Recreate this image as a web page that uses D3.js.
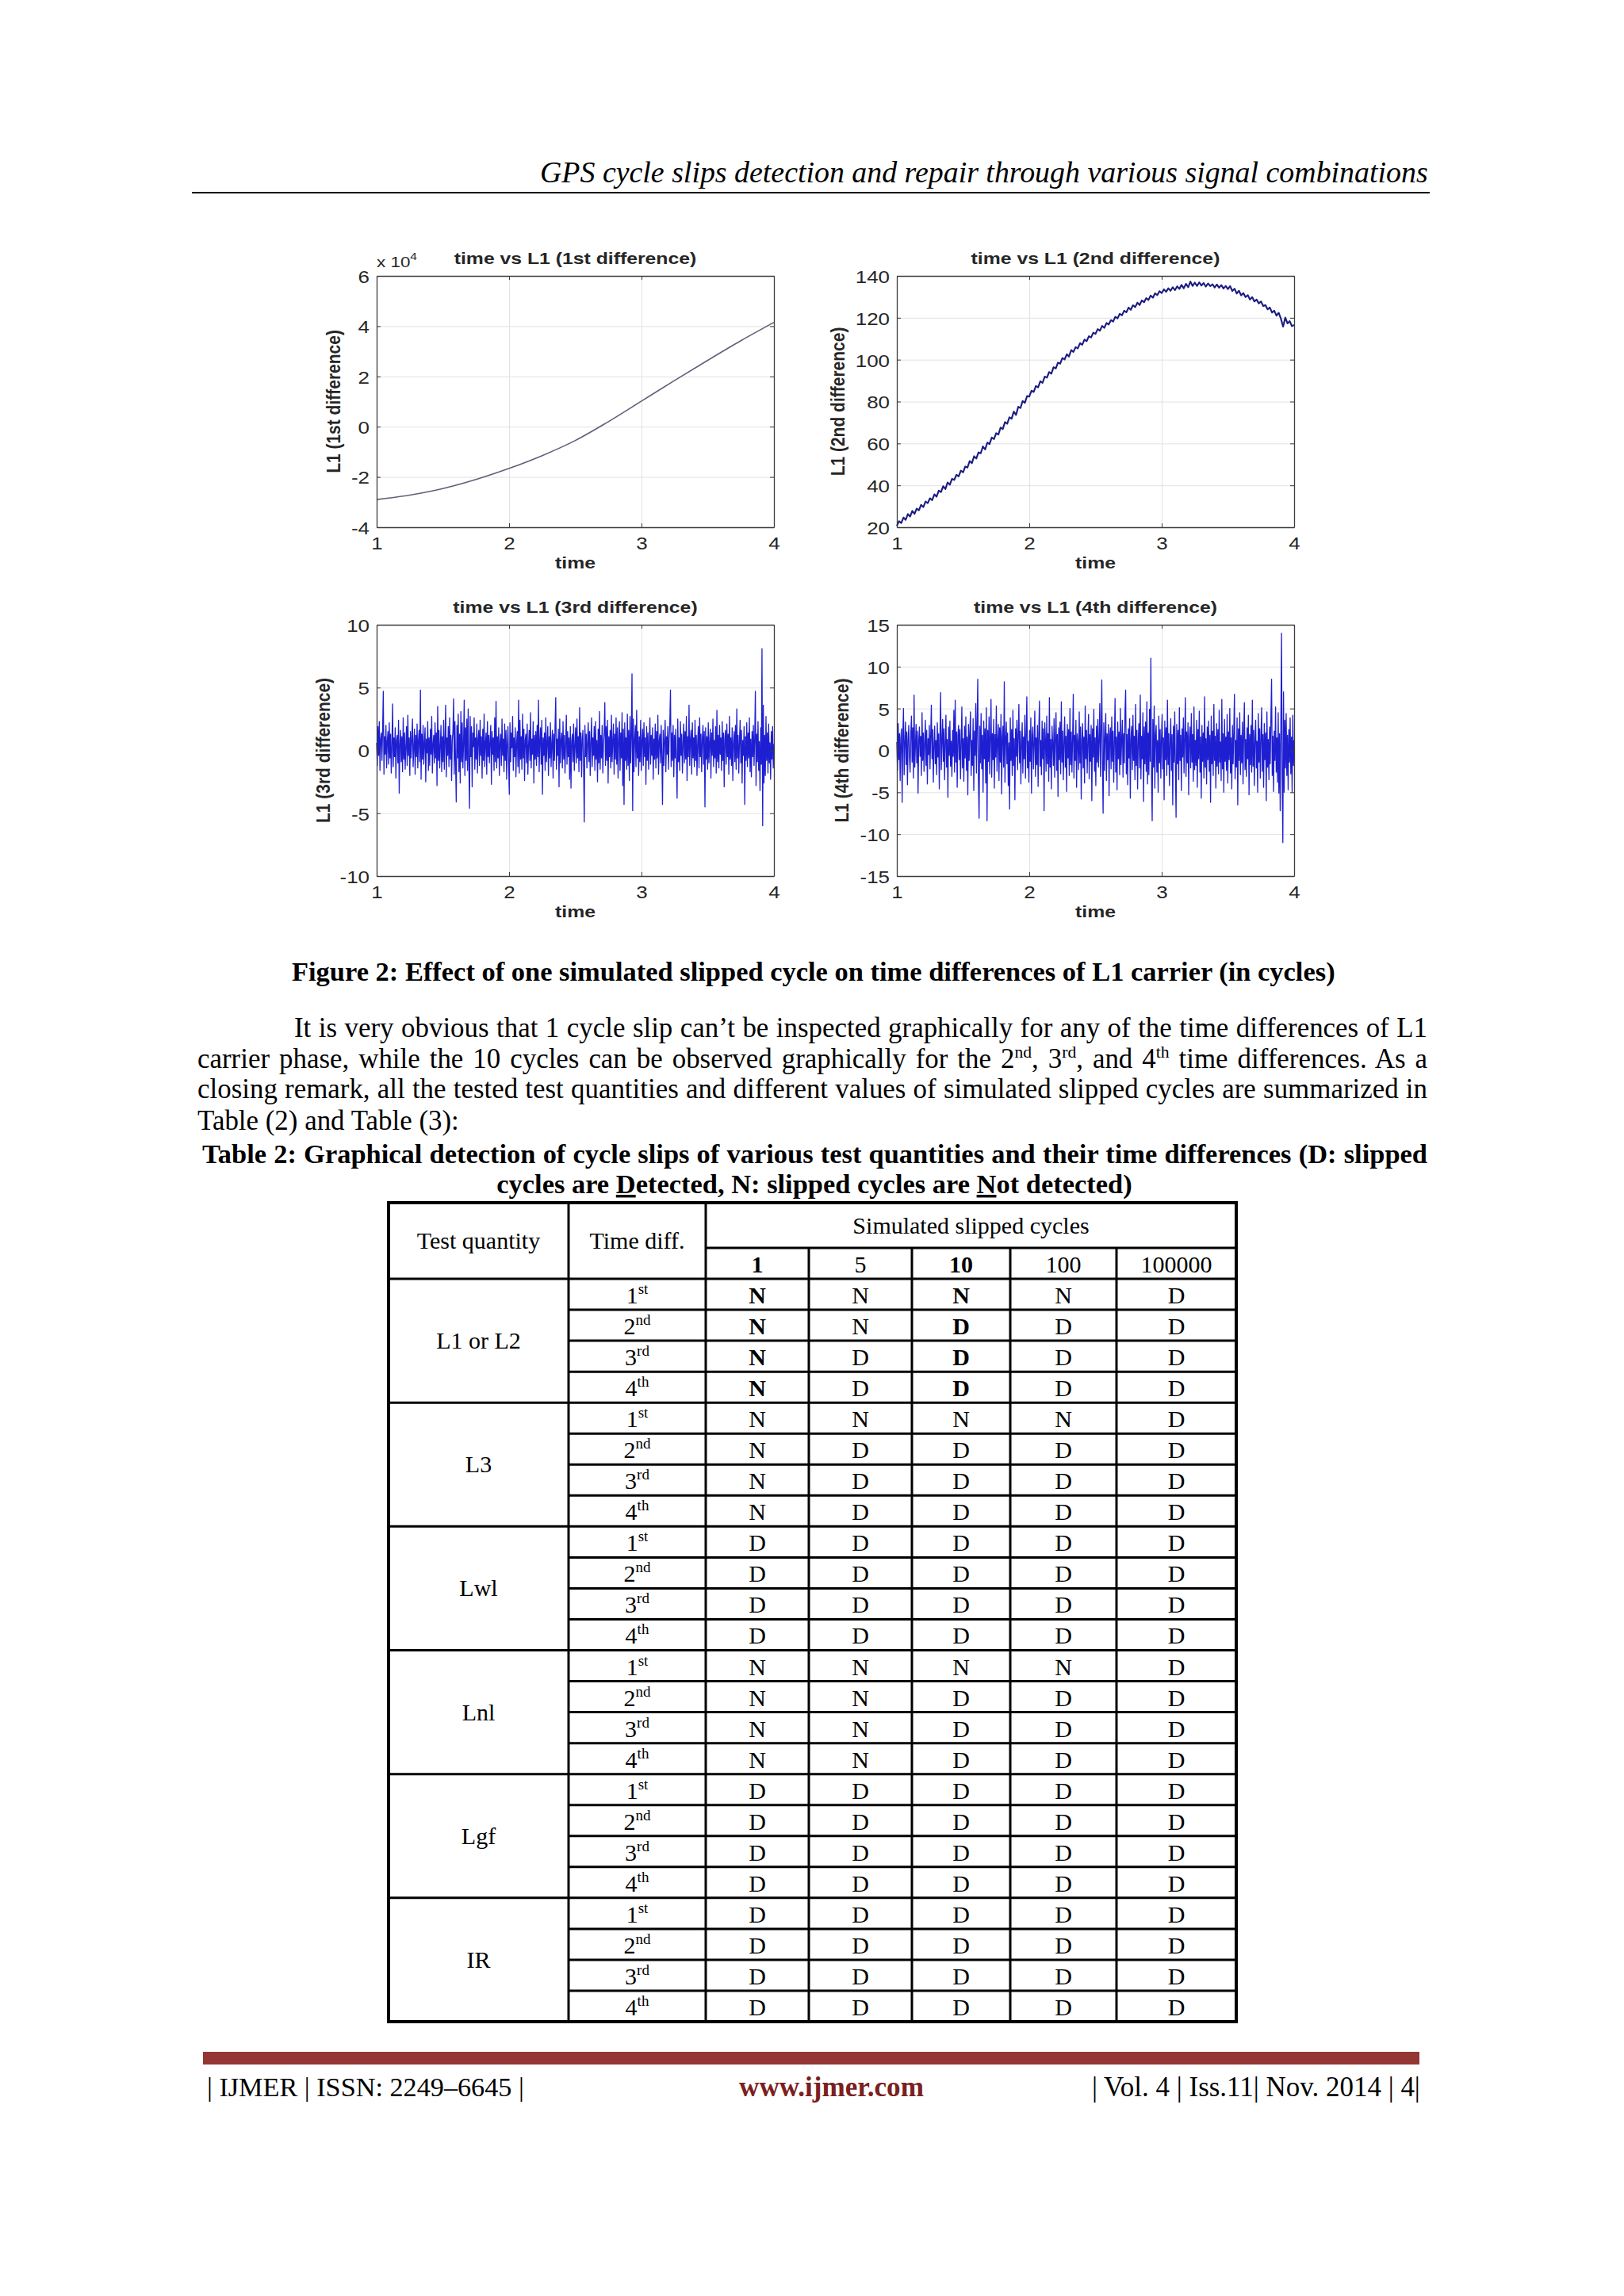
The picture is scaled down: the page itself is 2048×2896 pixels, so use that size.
<!DOCTYPE html>
<html>
<head>
<meta charset="utf-8">
<script src="https://cdn.jsdelivr.net/npm/d3@7"></script>
<style>
  html, body { margin: 0; padding: 0; background: #fff; }
  svg text { font-family: "Liberation Serif", "Times New Roman", serif; fill: #000; }
  .fig text { font-family: "Liberation Sans", Arial, Helvetica, sans-serif; fill: #262626; }
</style>
</head>
<body>
<svg id="page" width="2048" height="2896"></svg>
<script>
'use strict';

// ---- data ----

var timeTicks = [1, 2, 3, 4];

// 1st difference (in units of 10^4 cycles)
var diff1Time   = [1, 1.25, 1.5, 1.75, 2, 2.25, 2.5, 2.75, 3, 3.25, 3.5, 3.75, 4];
var diff1Values = [-2.9, -2.72, -2.46, -2.1, -1.66, -1.15, -0.55, 0.2, 1.02, 1.84, 2.64, 3.42, 4.15];
var diff1Ticks  = [-4, -2, 0, 2, 4, 6];

// 2nd difference, sampled evenly between time 1 and 4
var diff2Values = [
  20.6, 22.9, 22.0, 24.6, 23.5, 26.3, 25.1, 27.8, 26.4, 28.9, 28.1, 30.7, 29.6, 32.3, 31.5,
  33.8, 32.9, 35.7, 34.6, 37.5, 36.8, 39.6, 38.2, 41.4, 40.3, 43.1, 42.6, 45.0, 44.3, 47.0,
  46.2, 49.0, 48.5, 51.6, 50.6, 53.9, 52.8, 55.7, 55.3, 58.6, 57.1, 60.4, 59.7, 62.8, 62.1,
  64.9, 64.2, 67.6, 66.9, 70.2, 69.4, 72.5, 71.8, 75.2, 73.6, 77.5, 76.9, 80.3, 79.4, 82.6,
  82.4, 85.2, 84.6, 87.4, 86.8, 89.7, 88.9, 91.9, 91.4, 94.1, 93.3, 96.4, 95.8, 98.6, 98.1,
  100.8, 100.1, 102.6, 101.5, 104.6, 103.7, 106.0, 105.4, 107.9, 107.1, 109.6, 108.8, 111.2, 110.6, 112.9,
  112.3, 114.6, 113.8, 116.1, 115.2, 117.5, 116.8, 118.9, 118.2, 120.5, 119.7, 121.9, 121.2, 123.4, 122.6,
  124.9, 123.8, 126.0, 125.1, 127.2, 126.1, 128.3, 127.4, 129.4, 128.5, 130.6, 129.6, 131.7, 130.8, 132.7,
  131.8, 133.6, 132.4, 134.1, 132.9, 134.6, 133.2, 135.0, 133.8, 135.7, 134.1, 136.2, 134.6, 137.3, 135.2,
  136.8, 135.2, 136.9, 135.4, 136.6, 134.9, 136.4, 135.1, 136.0, 134.5, 135.9, 134.4, 135.6, 134.0, 135.2,
  133.7, 135.1, 132.8, 133.9, 131.6, 132.9, 130.7, 131.8, 129.9, 130.8, 128.7, 129.9, 127.8, 128.7, 126.9,
  127.8, 125.6, 126.1, 124.0, 124.9, 122.5, 123.4, 121.0, 122.4, 119.6, 115.8, 120.1, 117.3, 118.4, 116.0,
  116.6
];
var diff2Ticks = [20, 40, 60, 80, 100, 120, 140];

// 3rd difference, sampled evenly between time 1 and 4
var diff3Values = [
  0.6, -1.2, 1.9, -0.4, 2.3, -1.6, 0.9, 1.4, -0.8, 1.7, 4.7, -1.9, 1.1, -0.3, 2.0, -1.4, 0.7, 1.5, -1.1, 2.2,
  -0.6, 1.3, -1.8, 0.4, 3.7, -1.3, 1.0, -0.5, 1.8, -2.2, 0.8, 1.2, -1.0, 2.4, -3.4, 0.5, 1.6, -0.9, 1.1, -1.7,
  2.6, -0.7, 1.4, -1.5, 0.3, 1.9, -1.2, 2.8, -0.4, 1.0, -2.0, 1.5, -0.6, 0.9, 2.5, -1.3, 0.2, 1.7, -1.9, 1.2,
  -0.5, 2.1, -1.4, 0.8, 1.6, -0.9, 4.8, -2.3, 1.3, -0.7, 2.0, -1.1, 0.6, 1.8, -2.5, 0.9, -0.2, 2.3, -1.6, 1.0,
  -1.2, 1.7, -0.3, 2.7, -1.8, 0.5, 1.2, -1.0, 2.2, -0.6, 1.4, -2.8, 3.5, -0.8, 1.6, -1.4, 0.4, 2.0, -1.7, 1.1,
  -0.9, 2.4, -1.5, 0.7, 3.6, -2.1, 1.0, -0.4, 1.9, -1.3, 2.6, -0.7, 1.2, -2.4, 0.8, 1.5, 4.1, -1.9, 2.3, -1.0,
  -4.1, 2.0, -0.6, 2.9, -1.7, 1.3, -2.6, 3.1, -0.9, 2.2, -1.4, 0.5, 4.0, -2.0, 1.8, -0.8, 2.5, -1.6, 3.3, -1.1,
  -4.6, 2.7, -0.5, 1.9, -2.9, 1.4, 0.3, 2.6, -1.5, 1.0, -0.7, 2.1, -1.8, 0.9, 1.6, -1.2, 2.4, -0.4, 1.1, -2.2,
  1.7, -0.8, 2.9, -1.3, 0.6, 1.4, -1.9, 2.3, -0.5, 1.2, -1.0, 0.8, 2.0, -2.7, 1.5, -0.3, 1.0, -1.6, 2.6, -0.9,
  3.9, -1.4, 1.1, -0.6, 1.8, -2.0, 0.7, 1.3, -1.2, 2.5, -0.4, 0.9, -1.7, 2.1, -0.8, 1.6, -2.3, 0.5, 1.9, -1.1,
  -3.5, 2.2, -0.9, 1.4, 0.2, 2.7, -1.6, 1.0, -0.5, 1.8, -2.1, 0.6, 1.5, -1.3, 4.0, -1.8, 2.4, -0.7, 1.1, -1.5,
  2.9, -0.6, 1.7, -2.4, 0.8, 1.3, -1.0, 2.1, -1.9, 0.4, 1.6, -0.8, 3.0, -1.4, 0.9, -0.3, 2.3, -2.6, 1.2, -0.7,
  1.5, -1.2, 2.0, -0.5, 4.0, -1.7, 0.7, 1.8, -1.1, 2.4, -3.5, 1.0, -0.4, 1.4, -1.6, 2.6, -0.9, 0.6, 1.9, -2.0,
  1.1, -0.6, 2.2, -1.3, 0.5, 1.6, -2.2, 1.3, -0.8, 2.0, 4.2, -1.5, 0.9, -0.4, 1.7, -2.9, 2.5, -1.0, 0.8, 1.4,
  -1.4, 2.3, -0.7, 1.2, -1.8, 0.6, 2.8, -1.1, 1.5, -0.5, 1.0, -2.3, 1.9, -3.0, 0.7, 1.3, -0.9, 2.1, -1.6, 0.4,
  1.8, -1.0, 2.5, -0.6, 1.1, -1.7, 3.4, -0.8, 1.4, -2.1, 0.9, 1.6, -1.2, -5.7, 2.0, -0.5, 1.3, -1.4, 0.6, 2.2,
  -0.9, 1.5, -2.0, 0.7, 2.6, -1.3, 1.0, -0.4, 1.9, -1.6, 2.3, -0.7, 0.8, -2.5, 1.7, -1.0, 3.1, -1.5, 1.2, -0.6,
  2.0, -1.8, 0.5, 1.4, 3.8, -1.2, 1.9, -0.8, 2.4, -2.6, 1.1, -0.5, 1.6, -1.4, 2.8, -0.9, 0.7, 2.1, -1.9, 1.3,
  -0.7, 2.6, -1.1, 1.8, -2.2, 0.9, 2.3, -1.6, 1.4, -0.6, 3.0, -2.8, 1.7, -4.3, 2.2, -0.8, 1.0, -1.5, 2.9, -1.2,
  1.6, -2.4, 2.7, -1.0, 1.3, 6.1, -4.8, 2.5, -1.7, 0.9, 2.0, -1.3, 3.2, -0.6, 1.5, -2.0, 1.1, -0.9, 2.4, -1.6,
  0.8, 1.7, -1.2, 2.2, -0.5, 1.0, -2.7, 1.9, -0.8, 1.4, -1.5, 0.6, 2.6, -1.1, 1.2, -0.4, 1.8, -2.3, 0.9, -0.7,
  2.1, -1.4, 1.5, -0.6, 2.8, -1.9, 0.7, 1.3, -1.0, 2.0, -0.5, -4.3, 1.6, -1.2, 0.8, 2.4, -1.7, 1.1, -0.3, 1.9,
  -1.5, 0.9, 2.2, 4.8, -1.3, 1.4, -0.8, 2.0, -2.1, 1.2, -0.6, 1.7, -1.1, -3.8, 2.5, -0.9, 1.0, -1.6, 2.3, -0.4,
  1.3, -1.8, 0.6, 2.1, -1.0, 1.5, -0.7, 2.7, -2.4, 1.1, -0.5, 3.6, -1.2, 0.8, 1.6, -1.9, 2.2, -0.6, 1.0, -1.3,
  2.4, -0.8, 1.2, -2.0, 0.7, 1.9, -1.4, 2.6, -0.5, 1.3, -1.7, 0.9, 2.0, -1.1, 1.5, -4.5, 1.8, -0.7, 1.1, -1.5,
  2.2, -1.0, 0.6, 1.7, -2.2, 1.4, -0.4, 2.5, -1.3, 0.8, -0.6, 1.9, -1.8, 3.2, -0.9, 1.2, -1.4, 2.0, -0.3, 1.0,
  -1.6, 2.3, -0.8, 1.4, -2.9, 0.9, 1.6, -1.1, 2.1, -0.5, 1.3, -1.9, 2.7, -0.7, 1.0, -1.2, 1.8, -2.4, 0.6, 1.5,
  -0.9, 2.0, -1.5, 3.3, -0.6, 1.2, -1.8, 0.7, 2.4, -1.0, 1.6, -2.6, 0.8, -0.4, 1.9, -4.3, 1.1, -0.8, 2.2, -1.3,
  1.4, -0.6, 2.6, -1.7, 0.9, -2.1, 1.5, -0.5, 2.0, -1.2, 1.0, 4.7, -2.8, 1.3, -0.9, 2.3, -1.6, 0.7, -3.2, 1.8,
  -1.1, 8.1, -6.0, 3.6, -2.6, 1.2, -2.0, 2.7, -0.8, 1.4, -1.8, 2.1, -1.0, 0.6, -2.3, 1.5, -0.7, 1.9, -1.4, 0.5
];
var diff3Ticks = [-10, -5, 0, 5, 10];

// 4th difference, sampled evenly between time 1 and 4
var diff4Values = [
  1.0, -2.4, 3.2, -1.1, 2.0, -3.6, 1.5, 2.6, -6.2, 1.8, 5.0, -2.9, 0.8, 3.4, -1.7, 2.2, -4.1, 1.3, 3.0, -0.9,
  -2.6, 1.9, 4.1, -1.4, 2.7, -3.3, 6.6, -2.0, 0.6, 3.1, -1.5, 2.3, -5.1, 1.1, 2.8, -0.7, 1.7, -3.0, 4.5, -1.2,
  2.1, -2.5, 0.9, 3.6, -1.8, 2.4, -4.0, 1.4, -0.5, 3.0, -2.2, 1.6, 5.4, -1.0, 2.5, -3.8, 0.7, 2.9, -1.6, 1.2,
  -2.9, 3.3, -0.8, 2.0, -4.6, 1.5, 6.9, -2.3, 1.0, 3.7, -1.3, 2.6, -3.5, 0.9, 4.2, -2.0, 1.3, -5.6, 2.8, -0.6,
  3.5, -1.9, 1.1, -3.1, 2.4, -0.7, 4.8, -2.6, 6.0, -1.4, 2.2, -4.4, 1.7, 3.0, -1.1, 2.5, -3.4, 0.8, 5.2, -2.1,
  1.4, -3.7, 2.9, -0.9, 4.0, -2.4, 1.6, -5.3, 3.1, -1.2, 2.0, 4.6, -3.0, 1.2, -1.8, 3.8, -4.8, 2.3, -0.6, 5.6,
  -2.7, 3.2, 8.5, -3.4, -8.1, 2.9, -1.5, 4.4, -2.2, 1.8, -5.0, 3.5, -1.0, 2.6, -3.9, 5.1, -8.4, 2.4, -1.3, 4.0,
  -2.8, 1.5, 6.1, -3.2, 2.0, -1.1, 3.7, -4.5, 1.9, -0.8, 5.3, -2.5, 1.2, 3.1, -3.6, 2.7, -1.4, 4.3, -5.2, 1.6,
  2.9, -2.0, 8.2, -3.8, 1.3, 3.4, -1.6, 2.1, -4.2, 0.9, -7.0, 3.9, -1.2, 2.5, -3.0, 4.8, -1.8, 1.4, -5.9, 2.6,
  -0.7, 3.6, -2.3, 1.8, 5.5, -1.5, 2.3, -4.0, 1.0, 3.3, -2.7, 1.6, -1.0, 4.2, -3.3, 2.0, 6.4, -2.1, 1.1, -3.8,
  2.4, -1.3, 3.9, -5.1, 1.7, 2.8, -2.2, 0.8, 4.7, -3.1, 1.5, -1.7, 3.0, -4.3, 2.2, 5.9, -1.9, 1.2, -2.9, 3.5,
  -1.0, 2.6, -7.2, 3.3, 1.4, -2.5, 4.1, -1.6, 2.0, -3.7, 6.3, -2.0, 1.3, -4.6, 2.9, 0.7, -1.8, 3.8, -3.2, 1.6,
  4.5, -2.4, 1.9, -5.5, 2.7, -1.1, 3.4, -2.8, 5.8, -1.4, 2.3, -3.5, 1.0, 4.0, -2.0, 1.7, -4.9, 3.1, -0.9, 2.5,
  -3.0, 5.0, -1.7, 2.2, -2.6, 1.4, 6.7, -3.3, 1.8, -1.2, 3.6, -4.4, 2.0, 0.9, -2.3, 4.6, -1.5, 2.8, -5.8, 1.3,
  3.2, -2.1, 1.6, -3.9, 5.3, -1.0, 2.4, -2.7, 1.1, 4.3, -3.4, 1.9, -1.3, 3.0, -6.0, 2.6, -0.8, 4.9, -2.5, 1.5,
  -4.2, 2.9, -1.4, 3.7, -2.0, 1.2, 5.6, -3.1, 2.1, 8.4, -1.6, -7.5, 3.3, -2.4, 1.7, 4.4, -3.6, 2.0, -1.1, 3.1,
  -5.4, 1.8, 2.7, -2.2, 4.0, -1.3, 2.3, -3.8, 1.0, 6.2, -2.6, 1.6, -4.7, 3.4, -1.0, 2.2, -2.9, 5.0, -1.7, 1.3,
  3.6, -3.2, 2.0, -1.5, 4.7, 7.2, -2.8, 1.9, -4.1, 2.6, -0.9, 3.8, -5.7, 1.4, 2.9, -2.3, 4.2, -1.2, 1.7, -3.5,
  5.5, -1.8, 2.4, -4.6, 1.3, 3.2, -2.1, 6.6, -3.4, 1.7, -1.0, 4.5, -6.1, 2.8, -1.6, 3.4, -2.5, 5.8, -4.0, 2.1,
  -2.9, 4.9, -1.3, 11.0, -3.2, -8.4, 3.7, -2.0, 5.3, -4.5, 1.8, 3.0, -2.6, 1.2, -5.0, 4.1, -1.5, 2.5, -3.3, 1.6,
  4.3, -2.2, 1.5, -5.9, 3.5, -1.1, 2.7, -3.0, 6.0, -1.7, 2.0, -4.2, 1.1, 3.8, -2.4, 1.9, -6.5, 2.9, -1.4, 4.6,
  -2.0, -8.0, 3.1, -1.6, 2.4, -3.5, 5.1, -1.2, 1.8, -4.8, 2.6, -0.8, 3.9, -2.7, 1.4, 6.3, -3.1, 2.2, -1.5, 3.3,
  -5.3, 1.5, 2.8, -2.1, 4.4, -1.4, 1.9, -3.7, 5.2, -2.3, 1.2, -1.8, 3.6, -4.4, 2.5, -1.0, 4.7, -2.6, 1.6, -5.7,
  3.0, -1.3, 2.1, -3.3, 6.4, -2.0, 1.4, -4.0, 2.8, -1.1, 3.5, -2.5, 1.8, -6.2, 4.1, -1.6, 2.3, -3.0, 5.5, -1.2,
  1.7, -4.5, 3.2, -1.9, 2.5, -2.8, 4.8, -1.4, 1.0, -3.6, 6.1, -2.2, 2.0, -5.0, 3.7, -1.3, 1.6, -2.4, 4.3, -3.9,
  2.2, -1.1, 5.0, -2.7, 1.5, -4.6, 3.0, -1.6, 2.3, 6.7, -3.4, 1.2, -2.0, 3.9, -6.5, 2.6, -1.2, 4.5, -2.9, 1.8,
  -1.5, 3.4, -4.0, 2.0, 5.7, -2.3, 1.3, -3.1, 2.7, -1.0, 4.2, -5.3, 1.9, -1.7, 3.0, -2.6, 6.0, -1.9, 2.4, -4.2,
  1.4, 3.6, -2.1, 1.1, -5.0, 4.4, -1.4, 2.6, -3.3, 1.6, 5.1, -2.5, 1.9, -4.4, 3.2, -1.1, 2.1, -6.0, 4.6, -2.0,
  1.3, -3.5, 2.8, -1.6, 4.0, 8.5, -3.0, 1.7, -4.9, 2.3, -1.2, 5.2, -2.6, 1.5, -3.8, 4.5, -5.1, 2.0, -7.2, 3.4,
  14.0, -3.5, -11.0, 7.0, -5.0, 3.6, -2.1, 4.4, -3.0, 1.8, -4.7, 2.5, -1.4, 3.9, -2.8, 1.6, -5.0, 4.2, -1.8, 1.2
];
var diff4Ticks = [-15, -10, -5, 0, 5, 10, 15];

// Table 2
var quantities = ['L1 or L2', 'L3', 'Lwl', 'Lnl', 'Lgf', 'IR'];
var ordinals   = [['1', 'st'], ['2', 'nd'], ['3', 'rd'], ['4', 'th']];
var slipSizes  = ['1', '5', '10', '100', '100000'];
var detection  = [
  'NNNND', 'NNDDD', 'NDDDD', 'NDDDD',
  'NNNND', 'NDDDD', 'NDDDD', 'NDDDD',
  'DDDDD', 'DDDDD', 'DDDDD', 'DDDDD',
  'NNNND', 'NNDDD', 'NNDDD', 'NNDDD',
  'DDDDD', 'DDDDD', 'DDDDD', 'DDDDD',
  'DDDDD', 'DDDDD', 'DDDDD', 'DDDDD'
];

// ---- drawing ----

var page = d3.select('#page');
var SX = 1.18;          // the figure bitmap is stretched sideways in the paper
var plotW = 501, plotH = 317;

function evenTime(values) {
  return values.map(function(v, i) {
    return {t: 1 + 3 * i / (values.length - 1), v: v};
  });
}

function stretched(g, x, y, str, size, weight, anchor) {
  return g.append('text')
    .attr('transform', 'translate(' + x + ',' + y + ') scale(' + SX + ',1)')
    .attr('font-size', size)
    .attr('font-weight', weight || 'normal')
    .attr('text-anchor', anchor || 'middle')
    .text(str);
}

function subplot(cfg) {
  var g = page.append('g').classed('fig', true);
  var x = d3.scaleLinear().domain([1, 4]).range([cfg.left, cfg.left + plotW]);
  var y = d3.scaleLinear().domain(cfg.domain).range([cfg.top + plotH, cfg.top]);
  var bottom = cfg.top + plotH;

  // grid
  g.append('g').attr('transform', 'translate(0,' + bottom + ')')
    .call(d3.axisBottom(x).tickValues(timeTicks).tickSize(-plotH).tickFormat(''))
    .call(function(s) { s.select('.domain').remove(); s.selectAll('line').attr('stroke', '#e2e2e2'); });
  g.append('g').attr('transform', 'translate(' + cfg.left + ',0)')
    .call(d3.axisLeft(y).tickValues(cfg.ticks).tickSize(-plotW).tickFormat(''))
    .call(function(s) { s.select('.domain').remove(); s.selectAll('line').attr('stroke', '#e2e2e2'); });

  // data
  var line = d3.line().x(function(d) { return x(d.t); }).y(function(d) { return y(d.v); });
  if (cfg.curve) line.curve(cfg.curve);
  g.append('path').datum(cfg.data)
    .attr('fill', 'none')
    .attr('stroke', cfg.color)
    .attr('stroke-width', cfg.width)
    .attr('stroke-linejoin', 'round')
    .attr('d', line);

  // box and inward ticks on all four sides
  var axisColor = '#3c3c3c';
  [[d3.axisBottom(x).tickValues(timeTicks), 'translate(0,' + bottom + ')'],
   [d3.axisTop(x).tickValues(timeTicks), 'translate(0,' + cfg.top + ')'],
   [d3.axisLeft(y).tickValues(cfg.ticks), 'translate(' + cfg.left + ',0)'],
   [d3.axisRight(y).tickValues(cfg.ticks), 'translate(' + (cfg.left + plotW) + ',0)']
  ].forEach(function(a) {
    g.append('g').attr('transform', a[1])
      .call(a[0].tickSize(-5).tickSizeOuter(0).tickFormat(''))
      .call(function(s) {
        s.select('.domain').attr('stroke', axisColor).attr('stroke-width', 1.3);
        s.selectAll('.tick line').attr('stroke', axisColor);
      });
  });

  // tick labels
  var fmt = function(d) { return String(d); };
  g.append('g').attr('transform', 'translate(0,' + bottom + ')')
    .call(d3.axisBottom(x).tickValues(timeTicks).tickSize(0).tickPadding(12).tickFormat(fmt))
    .call(function(s) {
      s.select('.domain').remove();
      s.attr('font-size', 22).attr('font-family', null);
      s.selectAll('text').attr('transform', 'scale(' + SX + ',1)');
    });
  g.append('g').attr('transform', 'translate(' + cfg.left + ',0)')
    .call(d3.axisLeft(y).tickValues(cfg.ticks).tickSize(0).tickFormat(fmt))
    .call(function(s) {
      s.select('.domain').remove();
      s.attr('font-size', 22).attr('font-family', null);
      s.selectAll('text').attr('x', -9 / SX).attr('dy', '0.38em')
        .attr('transform', 'scale(' + SX + ',1)');
    });

  // titles
  var cx = cfg.left + plotW / 2;
  stretched(g, cx, cfg.top - 15, cfg.title, 21, 'bold');
  stretched(g, cx, bottom + 52, 'time', 21, 'bold');
  g.append('text')
    .attr('transform', 'translate(' + cfg.ylabX + ',' + (cfg.top + plotH / 2) + ') scale(' + SX + ',1) rotate(-90)')
    .attr('font-size', 21).attr('font-weight', 'bold').attr('text-anchor', 'middle').attr('dy', '0.35em')
    .text(cfg.ylabel);

  if (cfg.exponent) {
    var e = stretched(g, cfg.left, cfg.top - 11, '', 19, 'normal', 'start');
    e.append('tspan').text('x 10');
    e.append('tspan').attr('dy', -9).attr('font-size', 13).text(cfg.exponent);
  }
}

subplot({left: 475, top: 348, domain: [-4, 6], ticks: diff1Ticks,
  data: diff1Time.map(function(t, i) { return {t: t, v: diff1Values[i]}; }),
  curve: d3.curveMonotoneX, color: '#5f5f78', width: 1.6,
  title: 'time vs L1 (1st difference)', ylabel: 'L1 (1st difference)', ylabX: 420, exponent: '4'});

subplot({left: 1131, top: 348, domain: [20, 140], ticks: diff2Ticks,
  data: evenTime(diff2Values), color: '#1c1c80', width: 2.1,
  title: 'time vs L1 (2nd difference)', ylabel: 'L1 (2nd difference)', ylabX: 1056});

subplot({left: 475, top: 788, domain: [-10, 10], ticks: diff3Ticks,
  data: evenTime(diff3Values), color: '#1f1fd2', width: 1.3,
  title: 'time vs L1 (3rd difference)', ylabel: 'L1 (3rd difference)', ylabX: 407});

subplot({left: 1131, top: 788, domain: [-15, 15], ticks: diff4Ticks,
  data: evenTime(diff4Values), color: '#1f1fd2', width: 1.3,
  title: 'time vs L1 (4th difference)', ylabel: 'L1 (4th difference)', ylabX: 1061});

// ---- page text ----

function textLine(parts, x, y, o) {
  var t = page.append('text').attr('x', x).attr('y', y)
    .attr('font-size', o.size || 100)
    .attr('font-weight', o.bold ? 'bold' : 'normal')
    .attr('font-style', o.italic ? 'italic' : 'normal')
    .attr('text-anchor', o.anchor || 'start');
  if (o.fill) t.style('fill', o.fill);
  var shift = 0;
  parts.forEach(function(p) {
    var s = t.append('tspan');
    if (typeof p === 'string') {
      if (shift) { s.attr('dy', shift); shift = 0; }
      s.text(p);
    } else if (p.sup) {
      s.attr('dy', '-0.62em').attr('font-size', '62%').text(p.sup);
      shift = (0.62 * 0.62) + 'em';
    } else if (p.u) {
      if (shift) { s.attr('dy', shift); shift = 0; }
      s.style('text-decoration', 'underline').text(p.u);
    }
  });
  // fit: scale the font so the natural width equals the measured width
  if (o.fit) {
    var n = t.node().getComputedTextLength();
    t.attr('font-size', 100 * o.fit / n);
  }
  // justify: stretch word gaps to fill the measured width
  if (o.justify) {
    var w = t.node().getComputedTextLength();
    var gaps = t.text().split(' ').length - 1;
    t.style('word-spacing', ((o.justify - w) / gaps) + 'px');
  }
  return t;
}

textLine(['GPS cycle slips detection and repair through various signal combinations'], 681, 230,
  {italic: true, fit: 1120});
page.append('line').attr('x1', 242).attr('x2', 1803).attr('y1', 243).attr('y2', 243)
  .attr('stroke', '#000').attr('stroke-width', 2);

var capSize = +textLine(['Figure 2: Effect of one simulated slipped cycle on time differences of L1 carrier (in cycles)'],
  368, 1237, {bold: true, fit: 1316}).attr('font-size');

var paraSize = +textLine(['Table (2) and Table (3):'], 249, 1425, {fit: 330}).attr('font-size');
textLine(['It is very obvious that 1 cycle slip can’t be inspected graphically for any of the time differences of L1'],
  371, 1308, {size: paraSize, justify: 1429});
textLine(['carrier phase, while the 10 cycles can be observed graphically for the 2', {sup: 'nd'}, ', 3', {sup: 'rd'},
  ', and 4', {sup: 'th'}, ' time differences. As a'], 249, 1347, {size: paraSize, justify: 1551});
textLine(['closing remark, all the tested test quantities and different values of simulated slipped cycles are summarized in'],
  249, 1385, {size: paraSize, justify: 1551});

textLine(['Table 2: Graphical detection of cycle slips of various test quantities and their time differences (D: slipped'],
  255, 1467, {size: capSize, bold: true, justify: 1545});
textLine(['cycles are ', {u: 'D'}, 'etected, N: slipped cycles are ', {u: 'N'}, 'ot detected)'],
  1027, 1505, {size: capSize, bold: true, anchor: 'middle'});

// ---- table ----

var colX = [490, 717, 890, 1020, 1150, 1274, 1408, 1559];
var headTop = 1517, headMid = 1574, headBottom = 1613;
var rowY = d3.scaleLinear().domain([0, detection.length]).range([headBottom, 2550]);
var tbl = page.append('g');
var cellSize = 30;

function hline(x1, x2, y, w) {
  tbl.append('line').attr('x1', x1).attr('x2', x2).attr('y1', y).attr('y2', y)
    .attr('stroke', '#000').attr('stroke-width', w || 3);
}
function vline(x, y1, y2, w) {
  tbl.append('line').attr('x1', x).attr('x2', x).attr('y1', y1).attr('y2', y2)
    .attr('stroke', '#000').attr('stroke-width', w || 3);
}
function cellText(str, x, y, bold) {
  return tbl.append('text').attr('x', x).attr('y', y).attr('font-size', cellSize)
    .attr('font-weight', bold ? 'bold' : 'normal').attr('text-anchor', 'middle').text(str);
}

// header
cellText('Test quantity', (colX[0] + colX[1]) / 2, 1575);
cellText('Time diff.', (colX[1] + colX[2]) / 2, 1575);
cellText('Simulated slipped cycles', (colX[2] + colX[7]) / 2, 1556);
slipSizes.forEach(function(s, i) {
  cellText(s, (colX[i + 2] + colX[i + 3]) / 2, 1605, s === '1' || s === '10');
});
hline(colX[2], colX[7], headMid);
hline(colX[0], colX[7], headBottom);

// body
detection.forEach(function(row, r) {
  var top = rowY(r), base = top + 31;
  var ord = ordinals[r % 4];
  var t = cellText('', (colX[1] + colX[2]) / 2, base);
  t.append('tspan').text(ord[0]);
  t.append('tspan').attr('dy', -12).attr('font-size', 19).text(ord[1]);
  row.split('').forEach(function(c, i) {
    var bold = r < 4 && (i === 0 || i === 2);
    cellText(c, (colX[i + 2] + colX[i + 3]) / 2, base, bold);
  });
  if (r > 0) hline(r % 4 === 0 ? colX[0] : colX[1], colX[7], top);
});
quantities.forEach(function(q, i) {
  cellText(q, (colX[0] + colX[1]) / 2, rowY(i * 4 + 2) + 10);
});

// vertical rules
vline(colX[1], headTop, rowY(detection.length));
vline(colX[2], headTop, rowY(detection.length));
for (var c = 3; c < 7; c++) vline(colX[c], headMid, rowY(detection.length));
// outer frame
tbl.append('rect').attr('x', colX[0]).attr('y', headTop)
  .attr('width', colX[7] - colX[0]).attr('height', rowY(detection.length) - headTop)
  .attr('fill', 'none').attr('stroke', '#000').attr('stroke-width', 4);

// ---- footer ----

page.append('rect').attr('x', 256).attr('y', 2588).attr('width', 1534).attr('height', 16)
  .attr('fill', '#943634');
textLine(['| IJMER | ISSN: 2249–6645 |'], 261, 2644, {fit: 400});
textLine(['www.ijmer.com'], 932, 2644, {bold: true, fill: '#7a2020', fit: 233});
textLine(['| Vol. 4 | Iss.11| Nov. 2014 | 4|'], 1377, 2644, {fit: 414});
</script>
</body>
</html>
